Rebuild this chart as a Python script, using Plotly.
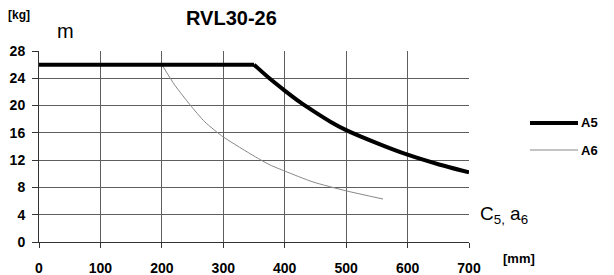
import plotly.graph_objects as go

# Data
a5_x = [0, 350, 375, 400, 425, 450, 475, 500, 550, 600, 650, 700]
a5_y = [26, 26, 24.0, 22.2, 20.5, 19.0, 17.6, 16.4, 14.5, 12.8, 11.4, 10.2]

a6_x = [200, 221, 246, 270, 300, 352, 376, 400, 446, 500, 560]
a6_y = [26, 23.0, 20.1, 17.6, 15.4, 12.5, 11.3, 10.4, 8.8, 7.5, 6.3]

x_ticks = [0, 100, 200, 300, 400, 500, 600, 700]
y_ticks = [0, 4, 8, 12, 16, 20, 24, 28]

series_names = ["A5", "A6"]
title_text = "RVL30-26"

FONT = "Liberation Sans, Arial, sans-serif"

fig = go.Figure()
fig.add_trace(go.Scatter(x=a6_x, y=a6_y, mode="lines", name=series_names[1],
                         line=dict(color="#888888", width=1, shape="spline", smoothing=0.6)))
# A5: flat plateau, then the falling curve
fig.add_trace(go.Scatter(x=a5_x[:2], y=a5_y[:2], mode="lines", name=series_names[0],
                         line=dict(color="black", width=4)))
fig.add_trace(go.Scatter(x=a5_x[1:], y=a5_y[1:], mode="lines", name=series_names[0],
                         line=dict(color="black", width=4, shape="spline", smoothing=0.5)))

W, H = 614, 275
L, R, T, B = 39, 145, 51, 33
pw = W - L - R
ph = H - T - B

def px_to_paper_x(px):
    return (px - L) / pw

def px_to_paper_y(py):
    return (H - B - py) / ph

fig.update_layout(
    width=W, height=H,
    margin=dict(l=L, r=R, t=T, b=B, autoexpand=False),
    paper_bgcolor="white", plot_bgcolor="white",
    showlegend=False,
    font=dict(family=FONT, color="black"),
    xaxis=dict(range=[0, 700], tickvals=x_ticks, ticktext=[str(v) for v in x_ticks],
               showgrid=True, gridcolor="#5e5e5e", gridwidth=1,
               showline=True, linecolor="#333333", linewidth=1,
               zeroline=False, ticks="outside", ticklen=5, tickcolor="#333333",
               tickfont=dict(family=FONT, size=14, color="black", weight="bold"),
               ticklabelstandoff=8, automargin=False),
    yaxis=dict(range=[0, 28], tickvals=y_ticks, ticktext=[str(v) for v in y_ticks],
               showgrid=True, gridcolor="#5e5e5e", gridwidth=1,
               showline=True, linecolor="#333333", linewidth=1,
               zeroline=False, ticks="outside", ticklen=6, tickcolor="#333333",
               tickfont=dict(family=FONT, size=14, color="black", weight="bold"),
               ticklabelstandoff=4, automargin=False),
)

# Legend drawn manually
legend_rows = [(series_names[0], 123, 4, "black"), (series_names[1], 150, 1, "#888888")]
for name, ypx, w, col in legend_rows:
    yp = px_to_paper_y(ypx)
    fig.add_shape(type="line", xref="paper", yref="paper",
                  x0=px_to_paper_x(530), x1=px_to_paper_x(578), y0=yp, y1=yp,
                  line=dict(color=col, width=w))
    fig.add_annotation(xref="paper", yref="paper", x=px_to_paper_x(579), y=yp,
                       text=f"<b>{name}</b>", showarrow=False, xanchor="left", yanchor="middle",
                       font=dict(family=FONT, size=13, color="black"))

def ann(text, xpx, ypx, size, xanchor="left"):
    fig.add_annotation(xref="paper", yref="paper", x=px_to_paper_x(xpx),
                       y=px_to_paper_y(ypx), text=text, showarrow=False,
                       xanchor=xanchor, yanchor="middle",
                       font=dict(family=FONT, size=size, color="black"))

ann(f"<b>{title_text}</b>", 231, 18, 20, "center")
ann("<b>[kg]</b>", 6, 15, 12)
ann("m", 55, 31, 20)
ann("C<sub>5,</sub> a<sub>6</sub>", 478, 215, 19)
ann("<b>[mm]</b>", 501, 258, 13)

fig.write_html("out.html", config={"displayModeBar": False},
               post_script="document.body.style.margin='0';document.body.style.padding='0';")
